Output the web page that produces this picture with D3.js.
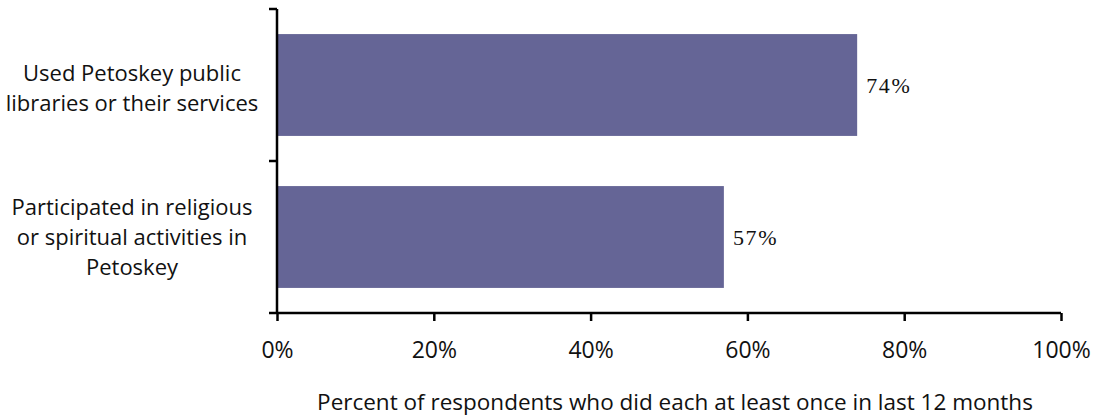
<!DOCTYPE html>
<html>
<head>
<meta charset="utf-8">
<script src="https://cdn.jsdelivr.net/npm/d3@7"></script>
<style>
  body { margin: 0; background: #fff; }
  text { fill: #111; }
</style>
</head>
<body>
<div id="stage"></div>
<script>
const categories = [
    ['Used Petoskey public', 'libraries or their services'],
    ['Participated in religious', 'or spiritual activities in', 'Petoskey']
];
const values = [74, 57];
const xTicks = [0, 20, 40, 60, 80, 100];
const xTitle = 'Percent of respondents who did each at least once in last 12 months';

const width = 1095;
const height = 418;
const margin = {top: 9, right: 34, bottom: 105, left: 277};

const svg = d3.select('#stage')
                .append('svg')
                .attr('width', width)
                .attr('height', height);

const x = d3.scaleLinear()
            .domain([0, 100])
            .range([margin.left, width - margin.right]);

const y = d3.scaleBand()
            .domain(d3.range(categories.length))
            .range([margin.top, height - margin.bottom])
            .paddingInner(0.33)
            .paddingOuter(0.165);

// bars
svg.append('g')
    .selectAll('rect')
    .data(values)
    .join('rect')
    .attr('x', x(0))
    .attr('y', (d, i) => y(i))
    .attr('width', d => x(d) - x(0))
    .attr('height', y.bandwidth())
    .attr('fill', '#656596');

// value labels
svg.append('g')
    .selectAll('text')
    .data(values)
    .join('text')
    .attr('x', d => x(d) + 9)
    .attr('y', (d, i) => y(i) + y.bandwidth() / 2)
    .attr('dy', '0.35em')
    .attr('font-family', 'Liberation Serif, serif')
    .attr('font-size', 22)
    .attr('letter-spacing', 1.7)
    .text(d => d + '%');

// x axis
const xAxis = svg.append('g')
    .attr('transform', `translate(0,${height - margin.bottom})`)
    .call(d3.axisBottom(x).tickValues(xTicks).tickSize(8).tickFormat(d => d + '%'));
xAxis.select('.domain').attr('stroke', '#000').attr('stroke-width', 2.5)
    .attr('d', `M${x(0)},0H${x(100)}`);
xAxis.selectAll('.tick line').attr('stroke', '#000').attr('stroke-width', 2.5);
xAxis.selectAll('.tick text')
    .attr('y', 29)
    .attr('font-family', 'Open Sans, sans-serif')
    .attr('font-size', 23)
    .attr('fill', '#111');

// y axis: ticks at band boundaries
const step = y.step();
const yEdges = d3.range(categories.length + 1).map(i => margin.top + i * step);
svg.append('line')
    .attr('x1', x(0)).attr('x2', x(0))
    .attr('y1', margin.top).attr('y2', height - margin.bottom)
    .attr('stroke', '#000').attr('stroke-width', 2.5);
svg.append('g')
    .selectAll('line')
    .data(yEdges)
    .join('line')
    .attr('x1', x(0) - 8).attr('x2', x(0))
    .attr('y1', d => d).attr('y2', d => d)
    .attr('stroke', '#000').attr('stroke-width', 2.5);

// category labels
const lineH = 30;
const cat = svg.append('g')
    .selectAll('text')
    .data(categories)
    .join('text')
    .attr('text-anchor', 'middle')
    .attr('font-family', 'Open Sans, sans-serif')
    .attr('font-size', 22)
    .attr('transform', (d, i) => `translate(132,${y(i) + y.bandwidth() / 2 + (d.length === 2 ? 3 : 0)})`);
cat.selectAll('tspan')
    .data(d => d.map((t, j) => ({t, j, n: d.length})))
    .join('tspan')
    .attr('x', 0)
    .attr('y', d => (d.j - (d.n - 1) / 2) * lineH)
    .attr('dy', '0.35em')
    .text(d => d.t);

// x title
svg.append('text')
    .attr('x', (x(0) + x(100)) / 2 + 6)
    .attr('y', 410)
    .attr('text-anchor', 'middle')
    .attr('font-family', 'Open Sans, sans-serif')
    .attr('font-size', 22.5)
    .text(xTitle);
</script>
</body>
</html>
